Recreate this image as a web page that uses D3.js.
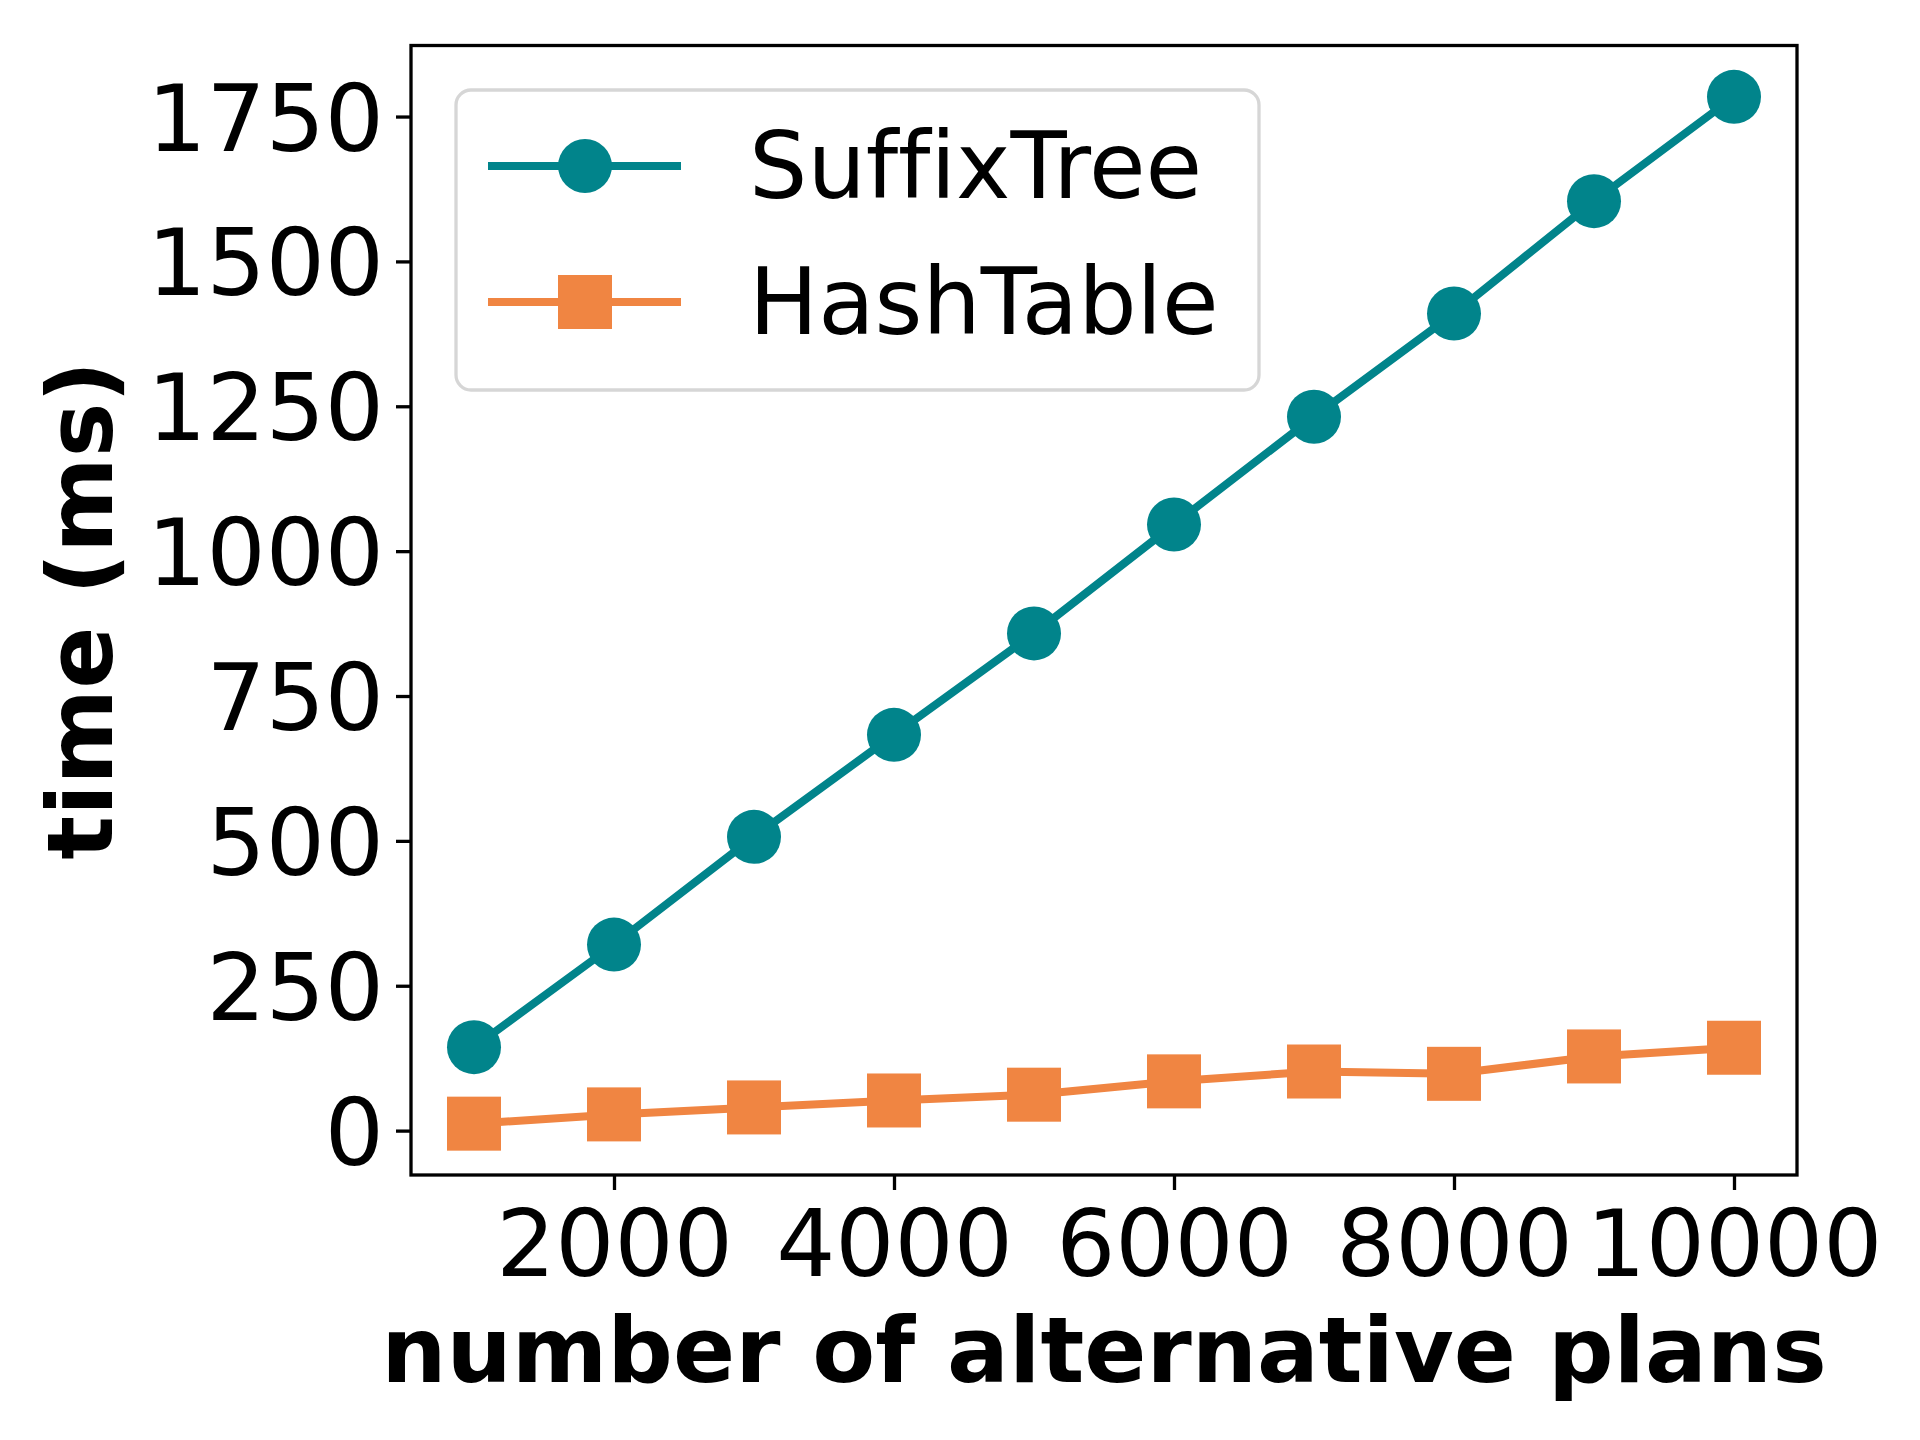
<!DOCTYPE html>
<html>
<head>
<meta charset="utf-8">
<script src="https://cdn.jsdelivr.net/npm/d3@7"></script>
<style>
  body { margin: 0; background: #fff; }
  text { font-family: "DejaVu Sans", sans-serif; fill: #000; font-variant-ligatures: none; }
</style>
</head>
<body>
<script>
// data
var plans = [1000, 2000, 3000, 4000, 5000, 6000, 7000, 8000, 9000, 10000];
var suffixTree = [144, 321, 507, 683, 858, 1046, 1232, 1410, 1604, 1784];
var hashTable = [12, 28, 40, 52, 62, 85, 102, 98, 128, 143];
var seriesNames = ["SuffixTree", "HashTable"];
var xTicks = [2000, 4000, 6000, 8000, 10000];
var yTicks = [0, 250, 500, 750, 1000, 1250, 1500, 1750];

var W = 1920, H = 1440;
var plot = {left: 411, right: 1797, top: 45.5, bottom: 1175};
var teal = "#01848b";
var orange = "#f08542";
var fontSize = 93;
var labelSize = 91.7;

var svg = d3.select("body").append("svg")
	.attr("width", W)
	.attr("height", H);

// matplotlib style 5% margins
function padded(lo, hi) {
	var m = (hi - lo) * 0.05;
	return [lo - m, hi + m];
}

var xScale = d3.scaleLinear()
	.domain(padded(d3.min(plans), d3.max(plans)))
	.range([plot.left, plot.right]);

var yMin = d3.min(suffixTree.concat(hashTable));
var yMax = d3.max(suffixTree.concat(hashTable));
var yScale = d3.scaleLinear()
	.domain(padded(yMin, yMax))
	.range([plot.bottom, plot.top]);

// axes
var xAxis = d3.axisBottom(xScale).tickValues(xTicks).tickSize(15).tickPadding(12).tickFormat(d3.format("d"));
var yAxis = d3.axisLeft(yScale).tickValues(yTicks).tickSize(15).tickPadding(12).tickFormat(d3.format("d"));

var gx = svg.append("g")
	.attr("transform", "translate(0," + plot.bottom + ")")
	.call(xAxis);
var gy = svg.append("g")
	.attr("transform", "translate(" + plot.left + ",0)")
	.call(yAxis);

[gx, gy].forEach(function(g) {
	g.select(".domain").remove();
	g.selectAll(".tick line").attr("stroke", "#000").attr("stroke-width", 3.3);
	g.selectAll(".tick text")
		.attr("font-family", "DejaVu Sans")
		.attr("font-size", fontSize)
		.attr("fill", "#000");
});
gx.selectAll(".tick text").attr("dy", null).attr("y", 101);
gy.selectAll(".tick text").attr("dy", "0.36em").attr("x", -27);

// frame
svg.append("rect")
	.attr("x", plot.left)
	.attr("y", plot.top)
	.attr("width", plot.right - plot.left)
	.attr("height", plot.bottom - plot.top)
	.attr("fill", "none")
	.attr("stroke", "#000")
	.attr("stroke-width", 3.3);

// axis titles
svg.append("text")
	.attr("x", (plot.left + plot.right) / 2)
	.attr("y", 1382)
	.attr("text-anchor", "middle")
	.attr("font-size", labelSize)
	.attr("font-weight", "bold")
	.text("number of alternative plans");

svg.append("text")
	.attr("transform", "translate(112," + (plot.top + plot.bottom) / 2 + ") rotate(-90)")
	.attr("text-anchor", "middle")
	.attr("font-size", labelSize)
	.attr("font-weight", "bold")
	.text("time (ms)");

// series
var line = d3.line()
	.x(function(d) { return xScale(d[0]); })
	.y(function(d) { return yScale(d[1]); });

var stData = d3.zip(plans, suffixTree);
var htData = d3.zip(plans, hashTable);

svg.append("path")
	.datum(stData)
	.attr("d", line)
	.attr("fill", "none")
	.attr("stroke", teal)
	.attr("stroke-width", 8);

svg.selectAll("circle.st")
	.data(stData)
	.enter()
	.append("circle")
	.attr("class", "st")
	.attr("cx", function(d) { return xScale(d[0]); })
	.attr("cy", function(d) { return yScale(d[1]); })
	.attr("r", 27)
	.attr("fill", teal);

svg.append("path")
	.datum(htData)
	.attr("d", line)
	.attr("fill", "none")
	.attr("stroke", orange)
	.attr("stroke-width", 8);

svg.selectAll("rect.ht")
	.data(htData)
	.enter()
	.append("rect")
	.attr("class", "ht")
	.attr("x", function(d) { return xScale(d[0]) - 27; })
	.attr("y", function(d) { return yScale(d[1]) - 27; })
	.attr("width", 54)
	.attr("height", 54)
	.attr("fill", orange);

// legend
var legend = svg.append("g").attr("transform", "translate(456,90)");
legend.append("rect")
	.attr("x", 0)
	.attr("y", 0)
	.attr("width", 803)
	.attr("height", 300)
	.attr("rx", 15)
	.attr("fill", "#fff")
	.attr("stroke", "#d6d6d6")
	.attr("stroke-width", 3.3);

var rows = legend.selectAll("g.row")
	.data(seriesNames)
	.enter()
	.append("g")
	.attr("class", "row")
	.attr("transform", function(d, i) { return "translate(0," + (76 + i * 136) + ")"; });

rows.append("line")
	.attr("x1", 32)
	.attr("x2", 225)
	.attr("stroke", function(d, i) { return i == 0 ? teal : orange; })
	.attr("stroke-width", 8);

rows.each(function(d, i) {
	var g = d3.select(this);
	if (i == 0) {
		g.append("circle").attr("cx", 129).attr("cy", 0).attr("r", 27).attr("fill", teal);
	} else {
		g.append("rect").attr("x", 102).attr("y", -27).attr("width", 54).attr("height", 54).attr("fill", orange);
	}
});

rows.append("text")
	.attr("x", 293)
	.attr("y", 32)
	.attr("font-size", 92)
	.text(function(d) { return d; });
</script>
</body>
</html>
